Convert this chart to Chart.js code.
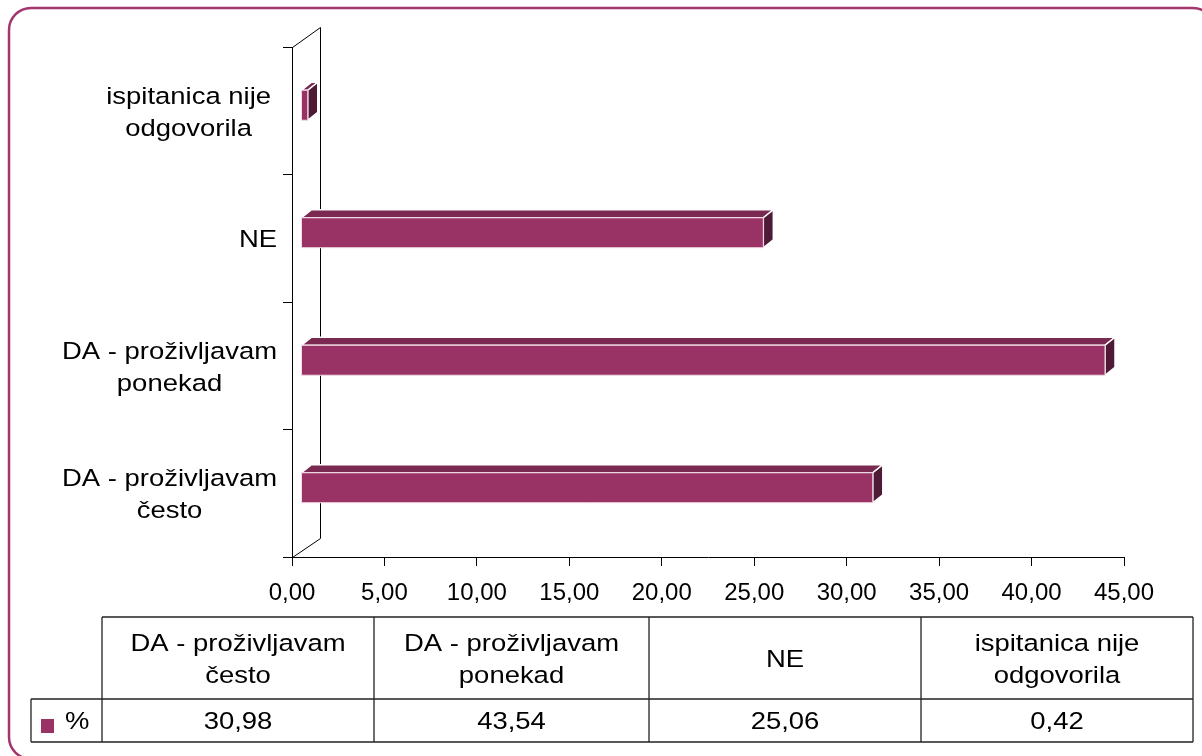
<!DOCTYPE html>
<html><head><meta charset="utf-8">
<script src="https://cdn.jsdelivr.net/npm/chart.js@4/dist/chart.umd.min.js"></script>
<style>html,body{margin:0;padding:0;background:#fff;overflow:hidden}#wrap{width:1202px;height:756px;position:relative}</style>
</head><body><div id="wrap"><canvas id="c" width="1202" height="756"></canvas></div>
<script>
// ---- data ----
const categories = [
  ['DA - proživljavam', 'često'],
  ['DA - proživljavam', 'ponekad'],
  ['NE'],
  ['ispitanica nije', 'odgovorila']
];
const seriesName = '%';
const values = [30.98, 43.54, 25.06, 0.42];
const xTickLabels = ['0,00','5,00','10,00','15,00','20,00','25,00','30,00','35,00','40,00','45,00'];

// ---- style ----
const FONT = '"Liberation Sans", Arial, sans-serif';
const FS = 24;          // axis tick font
const LFS = 24.5;       // label / table font
const STRETCH = 1.12;   // horizontal stretch of label text
const C_FRONT = '#993366', C_TOP = '#7a2951', C_SIDE = '#4e1a36';
const BORDER = '#a3356f';

function fmt(v){ return v.toFixed(2).replace('.', ','); }

function sText(ctx, t, x, y, align){
  ctx.save();
  ctx.translate(x, y);
  ctx.scale(STRETCH, 1);
  ctx.textAlign = align || 'center';
  ctx.fillText(t, 0, 0);
  ctx.restore();
}

const threeD = {
  id: 'threeD',
  beforeDatasetsDraw(chart){
    const {ctx, chartArea:a} = chart;
    ctx.save();
    ctx.strokeStyle = '#000'; ctx.lineWidth = 1;
    ctx.beginPath();
    ctx.moveTo(a.left + 0.5, a.top + 0.5);
    ctx.lineTo(a.left + 28.5, a.top - 20 + 0.5);
    ctx.lineTo(a.left + 28.5, a.bottom - 19 + 0.5);
    ctx.lineTo(a.left + 0.5, a.bottom + 0.5);
    ctx.stroke();
    ctx.restore();
  },
  afterDatasetsDraw(chart){
    const {ctx} = chart;
    const meta = chart.getDatasetMeta(0);
    ctx.save();
    meta.data.forEach(el => {
      const p = el.getProps(['x','y','base','height'], true);
      const dx = 9, dy = -5.5, ddx = 10, ddy = -8;
      const x0 = p.base + dx, x1 = p.x + dx - 1;
      const h = p.height;
      const yt = p.y + dy - h/2;
      ctx.lineWidth = 1.5; ctx.strokeStyle = '#ffffff'; ctx.lineJoin = 'miter';
      ctx.beginPath();
      ctx.moveTo(x0, yt); ctx.lineTo(x0 + ddx, yt + ddy); ctx.lineTo(x1 + ddx, yt + ddy); ctx.lineTo(x1, yt); ctx.closePath();
      ctx.fillStyle = C_TOP; ctx.fill(); ctx.stroke();
      ctx.beginPath();
      ctx.moveTo(x1, yt); ctx.lineTo(x1 + ddx, yt + ddy); ctx.lineTo(x1 + ddx, yt + ddy + h); ctx.lineTo(x1, yt + h); ctx.closePath();
      ctx.fillStyle = C_SIDE; ctx.fill(); ctx.stroke();
      ctx.beginPath();
      ctx.rect(x0, yt, x1 - x0, h);
      ctx.fillStyle = C_FRONT; ctx.fill();
      ctx.strokeStyle = '#f3dbe6'; ctx.lineWidth = 1; ctx.stroke();
    });
    ctx.restore();
  },
  afterDraw(chart){
    const {ctx, scales:{y}} = chart;
    ctx.save();
    ctx.font = LFS + 'px ' + FONT;
    ctx.fillStyle = '#000';
    ctx.textBaseline = 'middle';
    // y category labels: right-aligned block, lines centered inside it
    categories.forEach((lines, i) => {
      const yc = y.getPixelForValue(i);
      const w = Math.max(...lines.map(l => ctx.measureText(l).width)) * STRETCH;
      const right = lines[0].length > 14 && lines[0].startsWith('isp') ? 271 : 277;
      const cx = right - w/2;
      const pitch = 32;
      lines.forEach((l, j) => sText(ctx, l, cx, yc + 2 + (j - (lines.length - 1)/2) * pitch));
    });
    // data table
    const colX = [102, 374, 649, 921, 1193];
    const rowY = [617, 699, 742];
    const leftX = 31;
    ctx.strokeStyle = '#222'; ctx.lineWidth = 1.3;
    ctx.beginPath();
    ctx.moveTo(colX[0], rowY[0]); ctx.lineTo(colX[4], rowY[0]);
    ctx.moveTo(leftX, rowY[1]); ctx.lineTo(colX[4], rowY[1]);
    ctx.moveTo(leftX, rowY[2]); ctx.lineTo(colX[4], rowY[2]);
    ctx.moveTo(leftX, rowY[1]); ctx.lineTo(leftX, rowY[2]);
    colX.forEach(x => { ctx.moveTo(x, rowY[0]); ctx.lineTo(x, rowY[2]); });
    ctx.stroke();
    categories.forEach((lines, i) => {
      const cx = (colX[i] + colX[i+1]) / 2;
      const cy = (rowY[0] + rowY[1]) / 2;
      lines.forEach((l, j) => sText(ctx, l, cx, cy + 2 + (j - (lines.length - 1)/2) * 32));
      sText(ctx, fmt(values[i]), cx, (rowY[1] + rowY[2]) / 2 + 2);
    });
    // legend key
    ctx.fillStyle = C_FRONT;
    ctx.fillRect(41, 719, 13, 14);
    ctx.fillStyle = '#000';
    sText(ctx, seriesName, 65, 722, 'left');
    // outer rounded border
    ctx.strokeStyle = BORDER; ctx.lineWidth = 2.5;
    ctx.beginPath();
    ctx.roundRect(9, 8, 1206, 751, 22);
    ctx.stroke();
    ctx.restore();
  }
};

new Chart(document.getElementById('c'), {
  type: 'bar',
  data: {
    labels: categories,
    datasets: [{ label: seriesName, data: values, backgroundColor: 'rgba(0,0,0,0)', borderWidth: 0,
                 barPercentage: 0.235, categoryPercentage: 1 }]
  },
  options: {
    indexAxis: 'y', responsive: false, animation: false, devicePixelRatio: 1,
    layout: { padding: { left: 0, right: 78, top: 47, bottom: 0 } },
    plugins: { legend: { display: false }, tooltip: { enabled: false } },
    scales: {
      x: {
        min: 0, max: 45,
        ticks: { stepSize: 5, autoSkip: false, maxRotation: 0, color: '#000', padding: 13,
                 font: { family: FONT, size: FS }, callback: (v, i) => xTickLabels[i] },
        grid: { drawOnChartArea: false, drawTicks: true, tickLength: 9, color: '#000', lineWidth: 1 },
        border: { display: true, color: '#000', width: 1 },
        afterFit: s => { s.height = 199; }
      },
      y: {
        reverse: true,
        ticks: { display: false },
        grid: { drawOnChartArea: false, drawTicks: true, tickLength: 9, color: '#000', offset: true },
        border: { display: true, color: '#000', width: 1 },
        afterFit: s => { s.width = 292; }
      }
    }
  },
  plugins: [threeD]
});
</script></body></html>
